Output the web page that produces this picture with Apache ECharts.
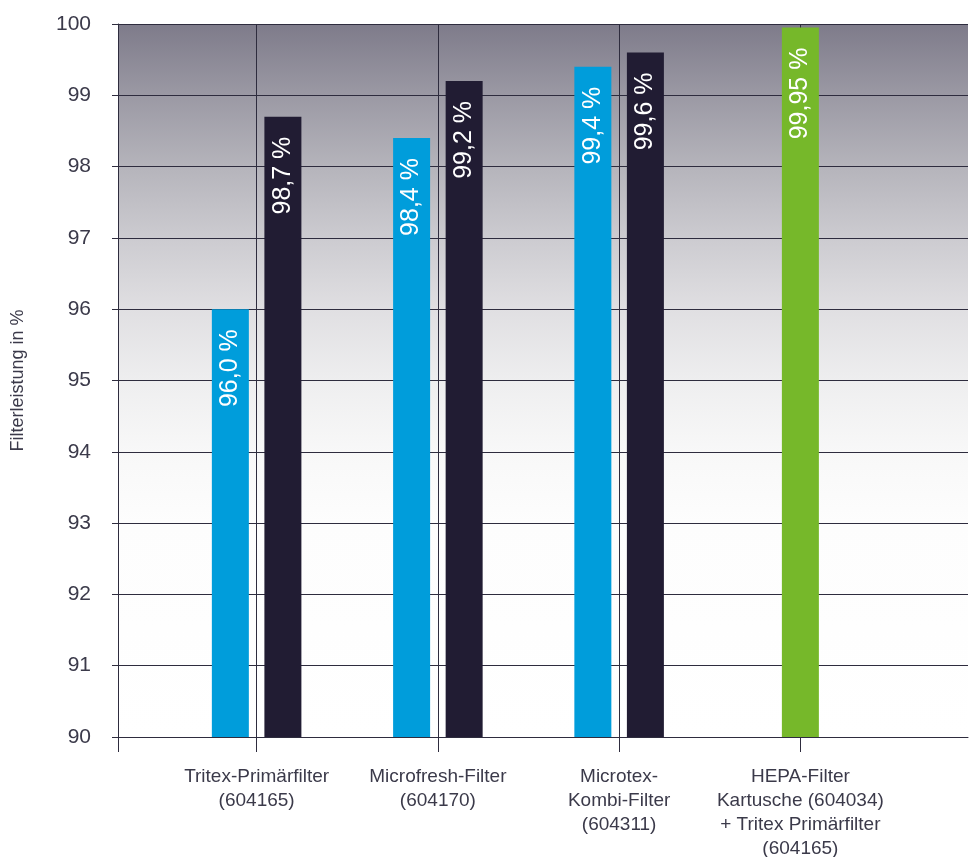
<!DOCTYPE html>
<html>
<head>
<meta charset="utf-8">
<script src="https://cdn.jsdelivr.net/npm/echarts@6/dist/echarts.min.js"></script>
<style>html,body{margin:0;padding:0;background:#fff}#c{width:970px;height:857px}</style>
</head>
<body>
<div id="c"></div>
<script>
const categories = ['Tritex-Primärfilter\n(604165)', 'Microfresh-Filter\n(604170)', 'Microtex-\nKombi-Filter\n(604311)', 'HEPA-Filter\nKartusche (604034)\n+ Tritex Primärfilter\n(604165)'];
const blueValues = [96.0, 98.4, 99.4, '-'];
const darkValues = [98.7, 99.2, 99.6, '-'];
const greenValues = ['-', '-', '-', 99.95];
const yMin = 90, yMax = 100, yStep = 1;
const yAxisName = 'Filterleistung in %';

const FONT = 'Liberation Sans';
const LINE = '#2e2c3e';
const TEXT = '#3b3a4a';

function fmt(v) {
  const d = Math.abs(v * 10 - Math.round(v * 10)) < 1e-6 ? 1 : 2;
  return v.toFixed(d).replace('.', ',') + ' %';
}
const barLabel = {
  show: true, position: 'insideTop', rotate: 90, align: 'right', verticalAlign: 'middle',
  distance: 20, color: '#fff', fontSize: 25, fontFamily: FONT,
  formatter: p => fmt(p.value)
};

const chart = echarts.init(document.getElementById('c'), null, {renderer: 'canvas'});
chart.setOption({
  animation: false,
  textStyle: {fontFamily: FONT},
  grid: [
    {left: 118, right: 2, top: 24, bottom: 120, show: true, borderWidth: 0, outerBoundsMode: 'none', containLabel: false,
     backgroundColor: {type: 'linear', x: 0, y: 0, x2: 0, y2: 1, colorStops: [
       {offset: 0, color: '#7e7b8a'}, {offset: 0.1, color: '#9b99a4'},
       {offset: 0.2, color: '#b5b4bb'}, {offset: 0.3, color: '#cccbd0'},
       {offset: 0.4, color: '#e0dfe2'}, {offset: 0.5, color: '#eeeeef'},
       {offset: 0.6, color: '#f8f8f8'}, {offset: 0.7, color: '#fdfdfd'},
       {offset: 1, color: '#ffffff'}]}},
    {left: 166, width: 725, top: 24, bottom: 120, outerBoundsMode: 'none', containLabel: false}
  ],
  xAxis: [
    {gridIndex: 0, type: 'value', min: 0, max: 1, interval: 1,
     axisLine: {show: true, lineStyle: {color: LINE, width: 1}},
     axisTick: {show: true, customValues: [0], length: 15, lineStyle: {color: LINE}},
     axisLabel: {show: false}, splitLine: {show: false}},
    {gridIndex: 1, type: 'category', data: categories,
     axisLine: {show: false},
     axisTick: {show: true, alignWithLabel: true, length: 15, lineStyle: {color: LINE}},
     splitLine: {show: true, alignWithLabel: true, interval: 0, lineStyle: {color: LINE, width: 1}},
     axisLabel: {interval: 0, color: TEXT, fontSize: 19, lineHeight: 24, margin: 28, fontFamily: FONT}},
    {gridIndex: 1, type: 'category', data: categories, show: false}
  ],
  yAxis: [
    {gridIndex: 0, type: 'value', min: yMin, max: yMax, interval: yStep,
     name: yAxisName, nameLocation: 'middle', nameGap: 91,
     nameTextStyle: {color: TEXT, fontSize: 18, fontFamily: FONT},
     axisLine: {show: true, lineStyle: {color: LINE, width: 1}},
     axisTick: {show: true, length: 6, lineStyle: {color: LINE}},
     axisLabel: {color: TEXT, fontSize: 21, margin: 27, fontFamily: FONT},
     splitLine: {show: true, lineStyle: {color: LINE, width: 1}}},
    {gridIndex: 1, type: 'value', min: yMin, max: yMax, interval: yStep, show: false,
     splitLine: {show: false}}
  ],
  series: [
    {type: 'bar', name: 'blue', xAxisIndex: 1, yAxisIndex: 1, data: blueValues,
     barWidth: 37, barGap: '42%', itemStyle: {color: '#009ddb'}, label: barLabel, z: 3},
    {type: 'bar', name: 'dark', xAxisIndex: 1, yAxisIndex: 1, data: darkValues,
     barWidth: 37, barGap: '42%', itemStyle: {color: '#211c33'}, label: barLabel, z: 3},
    {type: 'bar', name: 'green', xAxisIndex: 2, yAxisIndex: 1, data: greenValues,
     barWidth: 37, itemStyle: {color: '#76b82a'}, label: barLabel, z: 3}
  ]
});
</script>
</body>
</html>
